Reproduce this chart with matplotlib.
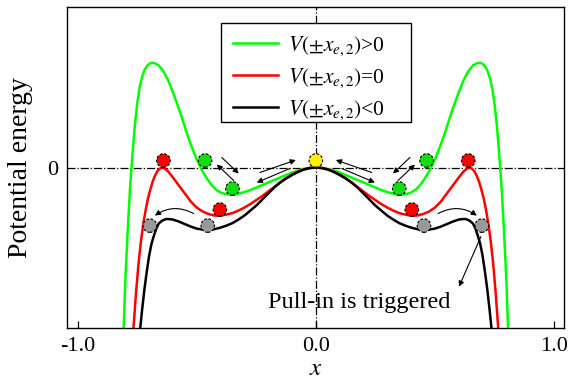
import numpy as np
import matplotlib
matplotlib.use("Agg")
import matplotlib.pyplot as plt
from matplotlib.patches import Rectangle

plt.rcParams['font.family'] = ['Liberation Serif', 'DejaVu Serif']
plt.rcParams['mathtext.fontset'] = 'stix'

# Right half (x >= 0) of each potential curve; the potentials are even in x.
x_pos = [0.0, 0.025, 0.05, 0.075, 0.10, 0.125, 0.15, 0.175, 0.20, 0.225,
         0.25, 0.275, 0.30, 0.325, 0.35, 0.375, 0.40, 0.42, 0.44, 0.46,
         0.48, 0.50, 0.52, 0.54, 0.56, 0.58, 0.60, 0.62, 0.64, 0.66,
         0.675, 0.69, 0.70, 0.71, 0.72, 0.73, 0.74, 0.75, 0.76, 0.77,
         0.78, 0.79, 0.80, 0.807, 0.815]
v_pos = [0.0, -0.004, -0.014, -0.03, -0.05, -0.075, -0.10, -0.125, -0.15, -0.175,
         -0.20, -0.225, -0.245, -0.26, -0.27, -0.268, -0.25, -0.22, -0.17, -0.10,
         -0.02, 0.08, 0.20, 0.33, 0.48, 0.62, 0.75, 0.87, 0.96, 1.02,
         1.04, 1.045, 1.035, 1.01, 0.97, 0.90, 0.80, 0.64, 0.42, 0.13,
         -0.20, -0.63, -1.13, -1.60, -1.90]

x_zero = [0.0, 0.025, 0.05, 0.075, 0.10, 0.125, 0.15, 0.175, 0.20, 0.225,
          0.25, 0.275, 0.30, 0.325, 0.35, 0.375, 0.40, 0.425, 0.45, 0.475,
          0.50, 0.525, 0.55, 0.575, 0.60, 0.62, 0.635, 0.645, 0.655, 0.665,
          0.675, 0.685, 0.695, 0.705, 0.715, 0.725, 0.735, 0.745, 0.755, 0.765,
          0.772]
v_zero = [0.0, -0.004, -0.018, -0.04, -0.07, -0.105, -0.15, -0.195, -0.24, -0.285,
          -0.325, -0.365, -0.40, -0.43, -0.455, -0.47, -0.48, -0.48, -0.465, -0.44,
          -0.40, -0.34, -0.26, -0.18, -0.10, -0.04, -0.01, 0.0, -0.01, -0.035,
          -0.08, -0.14, -0.22, -0.31, -0.43, -0.57, -0.75, -0.97, -1.25, -1.58,
          -1.85]

x_neg = [0.0, 0.025, 0.05, 0.075, 0.10, 0.125, 0.15, 0.175, 0.20, 0.225,
         0.25, 0.275, 0.30, 0.325, 0.35, 0.375, 0.40, 0.425, 0.45, 0.475,
         0.50, 0.525, 0.55, 0.575, 0.60, 0.615, 0.63, 0.645, 0.66, 0.67,
         0.68, 0.69, 0.70, 0.71, 0.72, 0.73, 0.738, 0.745]
v_neg = [0.0, -0.005, -0.02, -0.045, -0.075, -0.11, -0.15, -0.20, -0.26, -0.32,
         -0.38, -0.43, -0.48, -0.52, -0.555, -0.58, -0.60, -0.615, -0.62, -0.62,
         -0.61, -0.59, -0.565, -0.54, -0.52, -0.515, -0.515, -0.53, -0.56, -0.61,
         -0.68, -0.76, -0.88, -1.04, -1.22, -1.43, -1.62, -1.80]

# Equilibrium / state markers (x, V)
ball_yellow = ([0.0], [0.07])
ball_green = ([-0.465, 0.465, -0.35, 0.35], [0.07, 0.07, -0.21, -0.21])
ball_red = ([-0.64, 0.64, -0.403, 0.403], [0.07, 0.07, -0.42, -0.42])
ball_gray = ([-0.697, -0.454, 0.454, 0.697], [-0.58, -0.58, -0.58, -0.58])

labels = [r'$V(\pm x_{e,2})$>0', r'$V(\pm x_{e,2})$=0', r'$V(\pm x_{e,2})$<0']
xticks = [-1.0, 0.0, 1.0]
xticklabels = ['-1.0', '0.0', '1.0']


def mirror(x, v):
    x = np.asarray(x)
    v = np.asarray(v)
    return np.concatenate([-x[::-1], x[1:]]), np.concatenate([v[::-1], v[1:]])


fig = plt.figure(figsize=(5.7, 3.82), dpi=100)
ax = fig.add_axes([0.1175, 0.142, 0.872, 0.839])

ax.axhline(0, color='k', lw=0.9, ls='-.', zorder=1)
ax.axvline(0, color='k', lw=0.9, ls='-.', zorder=1)

lw = 1.8
for (xs, vs), col, lab in zip([mirror(x_pos, v_pos), mirror(x_zero, v_zero),
                               mirror(x_neg, v_neg)],
                              ['#00ff00', '#ff0000', 'k'], labels):
    ax.plot(xs, vs, color=col, lw=lw, label=lab, zorder=2,
            solid_joinstyle='round')

for (bx, by), col in [(ball_gray, '#999999'), (ball_red, '#ff0000'),
                      (ball_green, '#11dd11'), (ball_yellow, '#ffee00')]:
    ax.scatter(bx, by, s=95, c=col, edgecolors='k', linewidths=0.8,
               linestyles=(0, (2.5, 1.5)), zorder=4)

arrow_kw = dict(arrowstyle='-|>', color='k', lw=0.8, mutation_scale=8,
                shrinkA=0, shrinkB=0)
straight = [((0.084, 0.075), (0.235, -0.05)),
            ((0.248, -0.15), (0.109, -0.01)),
            ((0.324, -0.06), (0.395, 0.10)),
            ((0.416, 0.03), (0.345, -0.13))]
for side in (1, -1):
    for (hx, hy), (tx, ty) in straight:
        ax.annotate('', xy=(side * hx, hy), xytext=(side * tx, ty),
                    arrowprops=arrow_kw, zorder=3)
    ax.annotate('', xy=(side * 0.676, -0.48), xytext=(side * 0.513, -0.46),
                arrowprops=dict(arrow_kw, connectionstyle=f'arc3,rad={-0.3 * side}'),
                zorder=3)

ax.annotate('', xy=(0.601, -1.19), xytext=(0.693, -0.69), arrowprops=arrow_kw)
ax.text(0.181, -1.35, 'Pull-in is triggered', fontsize=17.5, ha='center',
        va='center')

ax.set_xlim(-1.045, 1.042)
ax.set_ylim(-1.6, 1.6)
ax.set_xticks(xticks)
ax.set_xticklabels(xticklabels)
ax.set_yticks([0])
ax.set_yticklabels(['0'])
ax.tick_params(axis='both', direction='in', length=5, width=0.9,
               labelsize=16)
ax.tick_params(axis='x', pad=7)
ax.tick_params(axis='y', length=0, pad=6)
for sp in ax.spines.values():
    sp.set_linewidth(1.0)

ax.set_xlabel(r'$x$', fontsize=18, labelpad=1)
ax.set_ylabel('Potential energy', fontsize=20)
ax.yaxis.set_label_coords(-0.068, 0.5)

# legend box, drawn as its own frame so the padding can be set freely
ax.add_patch(Rectangle((0.31, 0.642), 0.382, 0.309, transform=ax.transAxes,
                       facecolor='white', edgecolor='k', lw=1.0, zorder=5))
leg = ax.legend(loc='upper left', bbox_to_anchor=(0.334, 0.915), fontsize=15.5,
                frameon=False, handlelength=2.1, handletextpad=0.45,
                labelspacing=0.4, borderpad=0, borderaxespad=0)
leg.set_zorder(6)

fig.savefig('out.png', dpi=100)
